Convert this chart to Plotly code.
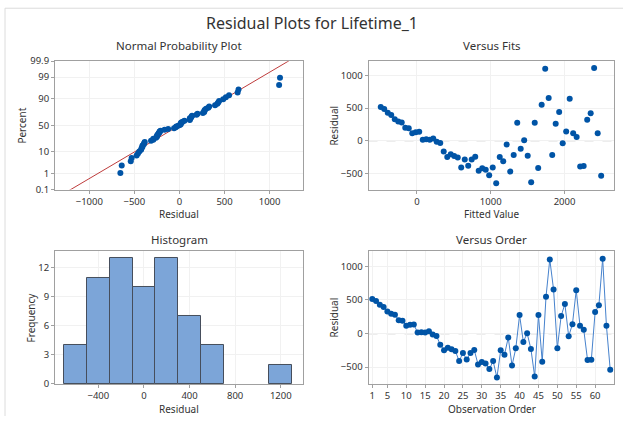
import plotly.graph_objects as go
from statistics import NormalDist, mean, stdev

# ---------------- data ----------------
residuals = [515, 485, 430, 395, 330, 295, 280, 200, 190, 115,
             130, 135, 15, 20, 15, 35, -15, -35, -165, -250,
             -210, -235, -260, -410, -290, -385, -290, -245, -460, -425,
             -445, -530, -410, -655, -250, -315, -60, -475, -220, 275,
             -125, 5, -230, -640, 275, -420, 550, 1105, 655, -220,
             260, 440, -40, 140, 645, 115, 55, -395, -390, 320,
             420, 1115, 115, -540]

fitted = [-490, -443, -395, -348, -300, -253, -206, -158, -111, -63,
          -16, 31, 79, 126, 174, 221, 268, 316, 363, 411,
          458, 505, 553, 600, 648, 695, 742, 790, 837, 885,
          932, 979, 1027, 1074, 1122, 1169, 1216, 1264, 1311, 1359,
          1406, 1453, 1501, 1548, 1596, 1643, 1690, 1738, 1785, 1833,
          1880, 1927, 1975, 2022, 2070, 2117, 2164, 2212, 2259, 2307,
          2354, 2401, 2449, 2496]

order = list(range(1, len(residuals) + 1))

percent_ticks = [0.1, 1, 10, 50, 90, 99, 99.9]
npp_x_ticks = [-1000, -500, 0, 500, 1000]
fits_x_ticks = [0, 1000, 2000]
resid_y_ticks = [-500, 0, 500, 1000]
hist_x_ticks = [-400, 0, 400, 800, 1200]
hist_y_ticks = [0, 3, 6, 9, 12]
order_x_ticks = [1, 5, 10, 15, 20, 25, 30, 35, 40, 45, 50, 55, 60]

# ---------------- derived for normal probability plot ----------------
nd = NormalDist()
n = len(residuals)
sorted_res = sorted(residuals)
npp_z = [nd.inv_cdf((i + 1 - 0.3) / (n + 0.4)) for i in range(n)]
mu, sd = mean(residuals), stdev(residuals)
line_z = [-3.4, 3.4]
line_x = [mu + z * sd for z in line_z]
pct_z = [nd.inv_cdf(p / 100) for p in percent_ticks]

# ---------------- styles ----------------
W, H = 623, 422
FONT = "Noto Sans"
TXT = "#333333"
BLUE = "rgb(0,84,166)"
AX = "#a0a0a0"

# observed vertical mapping of the capture: y_shown = 6.3 + 0.97 * y
V_OFF, V_SCALE = 6.3, 0.97


def px(x):
    return x / W


def py(y):
    yc = (y - V_OFF) / V_SCALE
    return min(1.0, max(0.0, 1 - yc / H))


def axis_style(**kw):
    d = dict(showline=True, mirror=True, linecolor=AX, linewidth=1,
             ticks="outside", ticklen=3, tickcolor=AX,
             showgrid=True, gridcolor="#f1f1f1", gridwidth=1,
             zeroline=False, tickfont=dict(family=FONT, size=9.5, color=TXT))
    d.update(kw)
    return d


L_DOM = [px(55), px(303)]
R_DOM = [px(368.5), px(614)]
T_DOM = [py(189), py(60.5)]
B_DOM = [py(383.5), py(250.5)]

fig = go.Figure()

# Normal probability plot
fig.add_trace(go.Scatter(x=line_x, y=line_z, mode="lines",
                         line=dict(color="rgb(190,60,60)", width=1),
                         xaxis="x", yaxis="y", hoverinfo="skip"))
fig.add_trace(go.Scatter(x=sorted_res, y=npp_z, mode="markers",
                         marker=dict(color=BLUE, size=6),
                         xaxis="x", yaxis="y"))

# Versus fits
fig.add_trace(go.Scatter(x=fitted, y=residuals, mode="markers",
                         marker=dict(color=BLUE, size=6),
                         xaxis="x2", yaxis="y2"))

# Histogram
fig.add_trace(go.Histogram(x=residuals,
                           xbins=dict(start=-700, end=1300, size=200),
                           marker=dict(color="rgb(124,165,216)",
                                       line=dict(color="rgb(70,78,92)", width=1)),
                           xaxis="x3", yaxis="y3"))

# Versus order
fig.add_trace(go.Scatter(x=order, y=residuals, mode="lines+markers",
                         line=dict(color="rgb(70,130,205)", width=1),
                         marker=dict(color=BLUE, size=6),
                         xaxis="x4", yaxis="y4"))

fig.update_layout(
    width=W, height=H, margin=dict(l=0, r=0, t=0, b=0),
    paper_bgcolor="white", plot_bgcolor="white", showlegend=False,
    font=dict(family=FONT, color=TXT),
    bargap=0,
    xaxis=axis_style(domain=L_DOM, anchor="y", range=[-1380, 1370],
                     tickvals=npp_x_ticks),
    yaxis=axis_style(domain=T_DOM, anchor="x", range=[pct_z[0], pct_z[-1]],
                     tickvals=pct_z, ticktext=[str(p) for p in percent_ticks]),
    xaxis2=axis_style(domain=R_DOM, anchor="y2", range=[-656, 2670],
                      tickvals=fits_x_ticks),
    yaxis2=axis_style(domain=T_DOM, anchor="x2", range=[-750, 1220],
                      tickvals=resid_y_ticks),
    xaxis3=axis_style(domain=L_DOM, anchor="y3", range=[-780, 1395],
                      tickvals=hist_x_ticks),
    yaxis3=axis_style(domain=B_DOM, anchor="x3", range=[0, 13.75],
                      tickvals=hist_y_ticks),
    xaxis4=axis_style(domain=R_DOM, anchor="y4", range=[0, 65],
                      tickvals=order_x_ticks),
    yaxis4=axis_style(domain=B_DOM, anchor="x4", range=[-750, 1230],
                      tickvals=resid_y_ticks),
)

shapes = []
for xr, yr in (("x2", "y2"), ("x4", "y4")):
    shapes.append(dict(type="line", xref=f"{xr} domain", yref=yr,
                       x0=0, x1=1, y0=0, y1=0,
                       line=dict(color="#b8b8b8", width=1.2, dash="dash"),
                       layer="below"))
# outer frame edges
shapes.append(dict(type="line", xref="paper", yref="paper",
                   x0=px(5), x1=px(5), y0=0, y1=0.997,
                   line=dict(color="#dcdcdc", width=1)))
shapes.append(dict(type="line", xref="paper", yref="paper",
                   x0=px(5), x1=1, y0=0.997, y1=0.997,
                   line=dict(color="#dcdcdc", width=1)))
fig.update_layout(shapes=shapes)

ann = []


def add_text(text, x, y, size, angle=0):
    ann.append(dict(text=text, x=px(x), y=py(y), xref="paper", yref="paper",
                    showarrow=False, xanchor="center", yanchor="middle",
                    textangle=angle, font=dict(family=FONT, size=size, color=TXT)))


add_text("Residual Plots for Lifetime_1", 311.5, 22, 16)
add_text("Normal Probability Plot", 179, 45, 11.5)
add_text("Versus Fits", 491.5, 45, 11.5)
add_text("Histogram", 179, 239, 11.5)
add_text("Versus Order", 491.5, 239, 11.5)
add_text("Residual", 179, 213.5, 10)
add_text("Percent", 22, 125, 10, -90)
add_text("Fitted Value", 491.5, 213.5, 10)
add_text("Residual", 334, 125, 10, -90)
add_text("Residual", 179, 408.5, 10)
add_text("Frequency", 31, 317, 10, -90)
add_text("Observation Order", 491.5, 408.5, 10)
add_text("Residual", 334, 317, 10, -90)
fig.update_layout(annotations=ann)

fig.write_html("out.html",
               config={"displayModeBar": False},
               post_script="document.body.style.margin='0';"
                           "document.body.style.overflow='hidden';")
